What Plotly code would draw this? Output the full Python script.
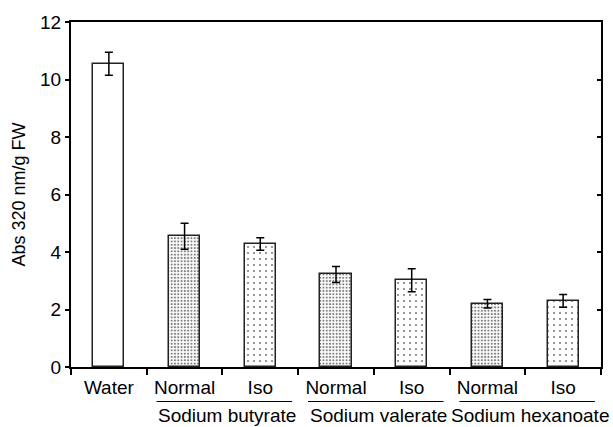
import plotly.graph_objects as go

categories = ["Water", "Normal", "Iso", "Normal", "Iso", "Normal", "Iso"]
values = [10.55, 4.55, 4.28, 3.22, 3.02, 2.20, 2.30]
errors = [0.40, 0.45, 0.22, 0.28, 0.40, 0.15, 0.22]
groups = ["Sodium butyrate", "Sodium valerate", "Sodium hexanoate"]
y_ticks = [0, 2, 4, 6, 8, 10, 12]

FONT = "Liberation Sans, Arial, Helvetica, sans-serif"
FS = 19

xc = [i + 0.5 for i in range(len(categories))]

def pattern_for(label):
    if label == "Normal":
        return dict(shape=".", size=3.3, solidity=0.35, fgcolor="black", bgcolor="white", fillmode="overlay")
    if label == "Iso":
        return dict(shape=".", size=6, solidity=0.1, fgcolor="black", bgcolor="white", fillmode="overlay")
    return dict(shape="")

fig = go.Figure()
for x, lab, v, e in zip(xc, categories, values, errors):
    fig.add_trace(go.Bar(
        x=[x], y=[v], width=0.41,
        marker=dict(color="white", line=dict(color="#222", width=1.5), pattern=pattern_for(lab)),
        error_y=dict(type="data", array=[e], visible=True, color="black", thickness=1.5, width=4),
        showlegend=False,
    ))

# invisible trace to activate right axis
fig.add_trace(go.Scatter(x=[0], y=[0], yaxis="y2", mode="markers", marker=dict(opacity=0),
                         showlegend=False, hoverinfo="skip"))

fig.update_layout(
    width=613, height=427,
    margin=dict(l=71, r=12, t=19, b=60),
    plot_bgcolor="white", paper_bgcolor="white",
    font=dict(family=FONT, size=FS, color="black"),
    xaxis=dict(
        range=[0, 7], tickmode="array", tickvals=xc, ticktext=categories, ticks="",
        showline=True, linecolor="black", linewidth=2, mirror=True, showgrid=False, zeroline=False,
        ticklabelstandoff=2,
        minor=dict(tickmode="array", tickvals=list(range(8)), ticks="outside", ticklen=6,
                   tickwidth=1.5, tickcolor="black", showgrid=False),
    ),
    yaxis=dict(
        range=[0, 12], tickvals=y_ticks, ticks="outside", ticklen=4, tickwidth=1.5, tickcolor="black",
        showline=True, linecolor="black", linewidth=2, showgrid=False, zeroline=False,
        tickfont=dict(size=19),
        title=dict(text="Abs 320 nm/g FW", font=dict(size=18), standoff=10),
    ),
    yaxis2=dict(
        range=[0, 12], overlaying="y", side="right", tickvals=y_ticks[1:-1], ticks="inside",
        ticklen=4, tickwidth=1.5, tickcolor="black", showticklabels=False,
        showline=True, linecolor="black", linewidth=2, showgrid=False, zeroline=False,
    ),
    bargap=0,
)

for gi, g in enumerate(groups):
    gx = 2 * gi + 2
    fig.add_shape(type="line", xref="x", yref="paper", x0=gx - 0.87, x1=gx + 0.92,
                  y0=-0.10, y1=-0.10, line=dict(color="black", width=1.2))
    fig.add_annotation(text=g, xref="x", yref="paper", x=gx + 0.06, y=-0.142,
                       showarrow=False, font=dict(size=FS), yanchor="middle", xanchor="center")

fig.write_html("out.html", config={"displayModeBar": False},
               post_script="document.body.style.margin='0';")
